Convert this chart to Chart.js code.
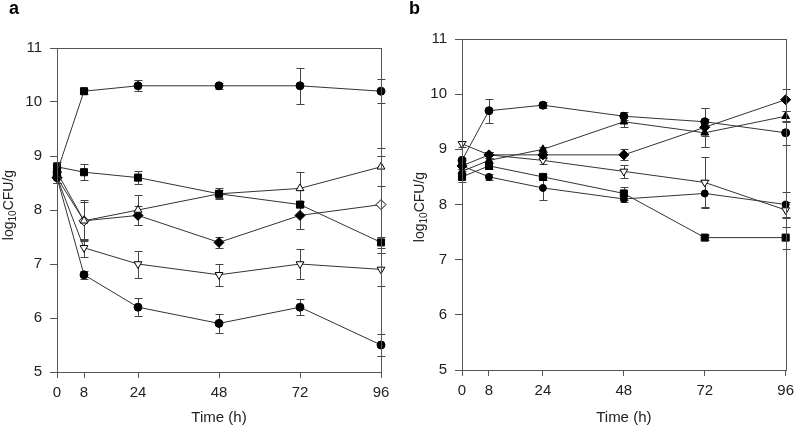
<!DOCTYPE html>
<html lang="en">
<head>
<meta charset="UTF-8">
<title>log10CFU/g over time</title>
<script src="https://cdn.jsdelivr.net/npm/chart.js"></script>
<style>
  html, body { margin: 0; padding: 0; background: #fff; }
  body { width: 800px; height: 427px; position: relative; overflow: hidden; }
  .panel { position: absolute; top: 0; width: 400px; height: 427px; }
  #panelA { left: 0; }
  #panelB { left: 400px; }
</style>
</head>
<body>
<div class="panel" id="panelA"><canvas id="chartA" width="400" height="427"></canvas></div>
<div class="panel" id="panelB"><canvas id="chartB" width="400" height="427"></canvas></div>

<script>
// sampling times (h) and axis ticks
const times = [0, 8, 24, 48, 72, 96];
const xTicks = [0, 8, 24, 48, 72, 96];
const yMin = 5, yMax = 11;

// panel a
const a1 = [8.7, 10.2, 10.3, 10.3, 10.3, 10.2];
const a1Err = [0.08, 0.05, 0.1, 0.05, 0.33, 0.22];
const a2 = [8.8, 8.7, 8.6, 8.3, 8.1, 7.4];
const a2Err = [0.08, 0.15, 0.12, 0.07, 0.05, 0.1];
const a3 = [8.7, 7.8, 8.0, 8.3, 8.4, 8.8];
const a3Err = [0.1, 0.38, 0.27, 0.1, 0.3, 0.35];
const a4 = [8.6, 7.8, 7.9, 7.4, 7.9, 8.1];
const a4Err = [0.1, 0.35, 0.18, 0.1, 0.26, 0.9];
const a5 = [8.6, 7.3, 7.0, 6.8, 7.0, 6.9];
const a5Err = [0.1, 0.17, 0.25, 0.2, 0.28, 0.3];
const a6 = [8.6, 6.8, 6.2, 5.9, 6.2, 5.5];
const a6Err = [0.1, 0.07, 0.17, 0.17, 0.15, 0.2];

// panel b
const b1 = [8.8, 9.7, 9.8, 9.6, 9.5, 9.3];
const b1Err = [0.05, 0.22, 0.05, 0.07, 0.25, 0.22];
const b2 = [8.6, 8.8, 9.0, 9.5, 9.3, 9.6];
const b2Err = [0.05, 0.05, 0.05, 0.1, 0.25, 0.1];
const b3 = [8.7, 8.9, 8.9, 8.9, 9.4, 9.9];
const b3Err = [0.05, 0.05, 0.05, 0.1, 0.35, 0.2];
const b4 = [9.1, 8.9, 8.8, 8.6, 8.4, 7.9];
const b4Err = [0.05, 0.05, 0.07, 0.12, 0.47, 0.15];
const b5 = [8.5, 8.7, 8.5, 8.2, 7.4, 7.4];
const b5Err = [0.1, 0.05, 0.05, 0.12, 0.05, 0.2];
const b6 = [8.7, 8.5, 8.3, 8.1, 8.2, 8.0];
const b6Err = [0.05, 0.05, 0.22, 0.05, 0.25, 0.22];

const FONT = '"Liberation Sans", Arial, Helvetica, sans-serif';
const INK = '#333';

function pts(vals) {
  return times.map((t, i) => ({ x: t, y: vals[i] }));
}

// one series: marker shape, fill, size
function series(vals, errs, style, fill, radius, extra) {
  return Object.assign({
    data: pts(vals),
    errors: errs,
    borderColor: INK,
    borderWidth: 1,
    tension: 0,
    clip: false,
    pointStyle: style,
    pointRadius: radius,
    pointHoverRadius: radius,
    pointBorderColor: '#000',
    pointBorderWidth: 1,
    pointBackgroundColor: fill
  }, extra || {});
}

// vertical error bars with caps, drawn under the markers
const errorBars = {
  id: 'errorBars',
  beforeDatasetsDraw(chart) {
    const ctx = chart.ctx;
    const yScale = chart.scales.y;
    ctx.save();
    ctx.strokeStyle = '#444';
    ctx.lineWidth = 1;
    chart.data.datasets.forEach((ds, i) => {
      const meta = chart.getDatasetMeta(i);
      meta.data.forEach((pt, j) => {
        const e = ds.errors ? ds.errors[j] : 0;
        if (!e) return;
        const v = ds.data[j].y;
        const x = Math.round(pt.x) + 0.5;
        const top = Math.round(yScale.getPixelForValue(v + e)) + 0.5;
        const bot = Math.round(yScale.getPixelForValue(v - e)) + 0.5;
        ctx.beginPath();
        ctx.moveTo(x, top); ctx.lineTo(x, bot);
        ctx.moveTo(x - 4, top); ctx.lineTo(x + 4, top);
        ctx.moveTo(x - 4, bot); ctx.lineTo(x + 4, bot);
        ctx.stroke();
      });
    });
    ctx.restore();
  }
};

// box frame, panel letter, axis titles (y title has a subscript)
const frameAndTitles = {
  id: 'frameAndTitles',
  afterDraw(chart, args, opts) {
    const ctx = chart.ctx;
    const a = chart.chartArea;
    ctx.save();
    ctx.strokeStyle = '#555';
    ctx.lineWidth = 1;
    ctx.strokeRect(Math.round(a.left) + 0.5, Math.round(a.top) + 0.5,
      Math.round(a.right - a.left), Math.round(a.bottom - a.top));

    ctx.fillStyle = '#000';
    ctx.font = 'bold 18px ' + FONT;
    ctx.textAlign = 'left';
    ctx.textBaseline = 'top';
    ctx.fillText(opts.letter, opts.letterX, 0);

    ctx.fillStyle = '#222';
    ctx.font = '15px ' + FONT;
    ctx.textAlign = 'center';
    ctx.textBaseline = 'middle';
    ctx.fillText('Time (h)', (a.left + a.right) / 2, 418);

    // rotated y title
    ctx.translate(opts.yTitleX, opts.yTitleY);
    ctx.rotate(-Math.PI / 2);
    ctx.textAlign = 'left';
    ctx.textBaseline = 'alphabetic';
    const big = '14px ' + FONT, small = '10px ' + FONT;
    ctx.font = big; const w1 = ctx.measureText('log').width;
    ctx.font = small; const w2 = ctx.measureText('10').width;
    ctx.font = big; const w3 = ctx.measureText('CFU/g').width;
    let x = -(w1 + w2 + w3) / 2;
    ctx.font = big; ctx.fillText('log', x, 0); x += w1;
    ctx.font = small; ctx.fillText('10', x, 3); x += w2;
    ctx.font = big; ctx.fillText('CFU/g', x, 0);
    ctx.restore();
  }
};

function makeChart(id, datasets, layout) {
  return new Chart(document.getElementById(id), {
    type: 'line',
    data: { datasets: datasets },
    options: {
      responsive: false,
      animation: false,
      devicePixelRatio: 1,
      events: [],
      layout: { autoPadding: false, padding: { top: layout.top, right: layout.right, left: 0, bottom: 0 } },
      plugins: {
        legend: { display: false },
        tooltip: { enabled: false },
        frameAndTitles: layout.titles
      },
      scales: {
        x: {
          type: 'linear',
          min: 0,
          max: 96,
          afterBuildTicks: s => { s.ticks = xTicks.map(v => ({ value: v })); },
          afterFit: s => { s.height = layout.xHeight; },
          grid: { drawOnChartArea: false, drawTicks: true, tickLength: 6, color: '#555', tickColor: '#555' },
          border: { display: true, color: '#555' },
          ticks: { color: '#222', font: { family: FONT, size: 15 }, padding: 6, maxRotation: 0 }
        },
        y: {
          min: yMin,
          max: yMax,
          afterFit: s => { s.width = layout.yWidth; },
          grid: { drawOnChartArea: false, drawTicks: true, tickLength: 7, color: '#555', tickColor: '#555' },
          border: { display: true, color: '#555' },
          ticks: { stepSize: 1, color: '#222', font: { family: FONT, size: 15 }, padding: 8 }
        }
      }
    },
    plugins: [errorBars, frameAndTitles]
  });
}

const W = '#fff', K = '#000';

makeChart('chartA', [
  series(a1, a1Err, ['circle', 'rect', 'circle', 'circle', 'circle', 'circle'], K, [4, 5, 4, 4, 4, 4]),
  series(a2, a2Err, 'rect', K, 5),
  series(a3, a3Err, 'triangle', W, 4.5),
  series(a4, a4Err, 'rectRot', [K, W, K, K, K, W], 5),
  series(a5, a5Err, 'triangle', W, 4.5, { pointRotation: 180 }),
  series(a6, a6Err, 'circle', K, 4)
], {
  top: 48, right: 19, yWidth: 57, xHeight: 55,
  titles: { letter: 'a', letterX: 9, yTitleX: 13, yTitleY: 205 }
});

makeChart('chartB', [
  series(b1, b1Err, 'circle', K, 4),
  series(b2, b2Err, 'triangle', K, 4.5),
  series(b3, b3Err, 'rectRot', K, 5),
  series(b4, b4Err, 'triangle', W, 4.5, { pointRotation: 180 }),
  series(b5, b5Err, 'rect', K, 5),
  series(b6, b6Err, 'circle', K, 3.5)
], {
  top: 39, right: 8, yWidth: 62, xHeight: 57,
  titles: { letter: 'b', letterX: 9, yTitleX: 24, yTitleY: 207 }
});
</script>
</body>
</html>
